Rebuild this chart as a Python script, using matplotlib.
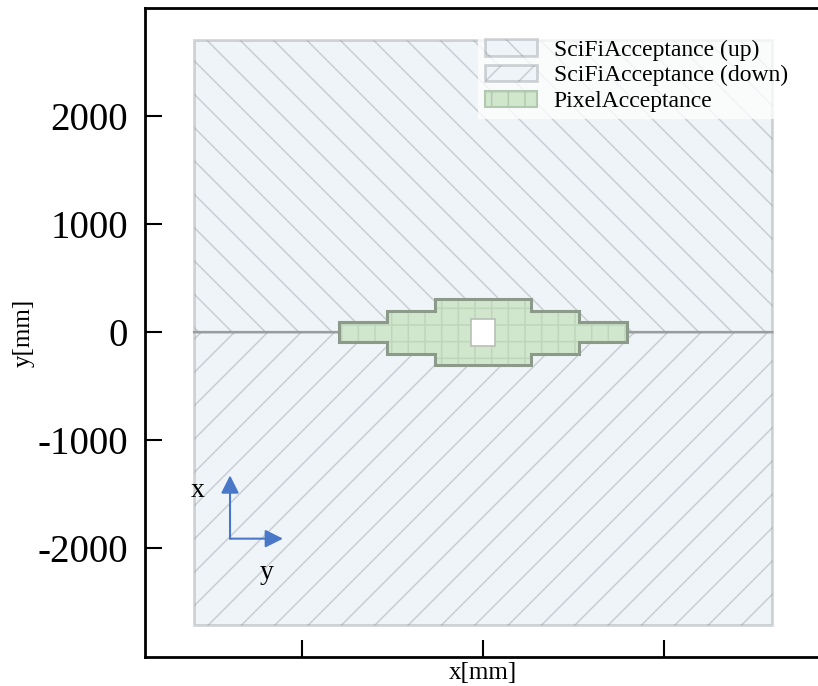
import matplotlib
matplotlib.use("Agg")
from matplotlib import pyplot as plt
from matplotlib.patches import Rectangle, Polygon
import numpy as np

plt.rcParams["font.family"] = ["Liberation Serif", "DejaVu Serif"]
plt.rcParams["axes.unicode_minus"] = False
plt.rcParams["hatch.linewidth"] = 1.1

# detector outlines in mm
scifi_half_x = 3180
scifi_half_y = 2705
# pixel staircase: half widths and matching half heights
pixel_half_x = [1584, 1056, 528]
pixel_half_y = [94, 201, 306]
hole_half_x = 132
hole_half_y = 125

yticks = [-2000, -1000, 0, 1000, 2000]
xticks = [-2000, 0, 2000]

W, H = 818, 686
fig = plt.figure(figsize=(W / 100, H / 100), dpi=100)
left, right, top, bottom = 145, 821, 8, 657
ax = fig.add_axes([left / W, (H - bottom) / H, (right - left) / W, (bottom - top) / H])
ax.set_xlim(-3725, 3725)
ax.set_ylim(-3005, 3000)

scifi_face = "#eef4f7"
scifi_edge = (0.45, 0.47, 0.5, 0.3)

up = Rectangle((-scifi_half_x, 0), 2 * scifi_half_x, scifi_half_y,
               facecolor=scifi_face, edgecolor=scifi_edge, hatch="\\",
               lw=2, zorder=1, label="SciFiAcceptance (up)")
down = Rectangle((-scifi_half_x, -scifi_half_y), 2 * scifi_half_x, scifi_half_y,
                 facecolor=scifi_face, edgecolor=scifi_edge, hatch="/",
                 lw=2, zorder=1, label="SciFiAcceptance (down)")
ax.add_patch(up)
ax.add_patch(down)
# shared boundary between the two halves
ax.plot([-scifi_half_x, scifi_half_x], [0, 0], color="#9a9c9e", lw=1.6, zorder=1.5)

# build the stepped outline of the pixel region
xs = list(pixel_half_x)
ys = list(pixel_half_y)
upper = []
for i in range(len(xs)):
    upper.append((-xs[i], ys[i - 1] if i > 0 else 0))
    upper.append((-xs[i], ys[i]))
for i in reversed(range(len(xs))):
    upper.append((xs[i], ys[i]))
    upper.append((xs[i], ys[i - 1] if i > 0 else 0))
upper = [p for p in upper if not (p[1] == 0)]
outline = upper + [(x, -y) for x, y in reversed(upper)]
outline = np.array(outline)

pixel_face = "#d1e7cd"
ax.add_patch(Polygon(outline, closed=True, facecolor=pixel_face,
                     edgecolor="#c0d6bc", hatch="+", lw=0, zorder=2))
ax.add_patch(Polygon(outline, closed=True, facecolor="none",
                     edgecolor="#8c9b89", lw=2.2, zorder=3))
ax.add_patch(Rectangle((-hole_half_x, -hole_half_y), 2 * hole_half_x, 2 * hole_half_y,
                       facecolor="white", edgecolor="#b8c0b6", lw=1.2, zorder=4))

# legend proxy for the pixel region
pix_handle = Rectangle((0, 0), 1, 1, facecolor=pixel_face, edgecolor="#b3c9af",
                       hatch="+", lw=1.5, label="PixelAcceptance")

leg = ax.legend(handles=[up, down, pix_handle], loc="upper left",
                bbox_to_anchor=(478 / W, 1 - 32 / H), bbox_transform=fig.transFigure,
                borderaxespad=0, fontsize=17, frameon=True, fancybox=False,
                handlelength=2.2, handleheight=0.7, labelspacing=0.18,
                handletextpad=0.7, borderpad=0.3)
leg.get_frame().set_facecolor("white")
leg.get_frame().set_alpha(0.75)
leg.get_frame().set_edgecolor("none")

# axis orientation arrows
arrow_col = "#4a78c8"
ax.annotate("", xy=(-2788, -1324), xytext=(-2788, -1910),
            arrowprops=dict(arrowstyle="-|>", color=arrow_col, lw=1.5, mutation_scale=27,
                            shrinkA=0, shrinkB=0), zorder=5)
ax.annotate("", xy=(-2204, -1910), xytext=(-2788, -1910),
            arrowprops=dict(arrowstyle="-|>", color=arrow_col, lw=1.5, mutation_scale=27,
                            shrinkA=0, shrinkB=0), zorder=5)
ax.text(-3140, -1463, "x", fontsize=20, ha="center", va="center", zorder=5)
ax.text(-2380, -2222, "y", fontsize=20, ha="center", va="center", zorder=5)

ax.set_yticks(yticks)
ax.set_xticks(xticks)
ax.tick_params(axis="both", direction="in", length=12, width=1.5)
ax.tick_params(axis="y", labelsize=28, pad=12)
ax.tick_params(axis="x", labelbottom=False)
for side in ["left", "top", "bottom"]:
    ax.spines[side].set_linewidth(2)
ax.spines["right"].set_visible(False)

ax.set_xlabel("x[mm]", fontsize=18)
ax.set_ylabel("y[mm]", fontsize=18)
ax.xaxis.set_label_coords(0.5, -5 / (bottom - top))
ax.yaxis.set_label_coords(-0.163, 0.5)

fig.savefig("out.png", dpi=100)
